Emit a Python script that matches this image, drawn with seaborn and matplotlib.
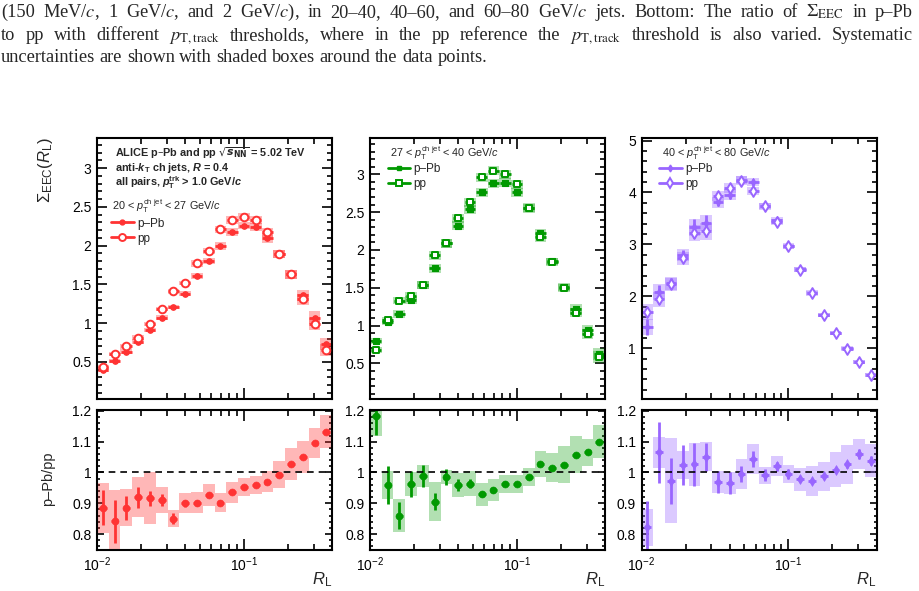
import numpy as np
import pandas as pd
import seaborn as sns
import matplotlib.pyplot as plt
from matplotlib.lines import Line2D
from matplotlib.ticker import MultipleLocator, LogLocator, NullFormatter

# R_L bin edges (20 log bins from 0.01 to 0.4)
rl_edges = [0.0100, 0.01202, 0.01446, 0.01739, 0.02092, 0.02516, 0.03026,
            0.03639, 0.04377, 0.05265, 0.06332, 0.07616, 0.09159, 0.11016,
            0.13249, 0.15935, 0.19165, 0.23050, 0.27723, 0.33343, 0.4000]

# 20 < pT < 27 GeV/c
ppb_1 = [0.40, 0.51, 0.63, 0.76, 0.91, 1.07, 1.21, 1.38, 1.61, 1.80,
         2.00, 2.18, 2.26, 2.24, 2.10, 1.89, 1.63, 1.36, 1.07, 0.73]
pp_1 = [0.43, 0.60, 0.70, 0.81, 0.99, 1.18, 1.41, 1.52, 1.77, 1.93,
        2.21, 2.33, 2.37, 2.33, 2.17, 1.89, 1.63, 1.31, 0.99, 0.65]
sys_1 = [0.03, 0.03, 0.03, 0.03, 0.03, 0.03, 0.03, 0.03, 0.04, 0.04,
         0.05, 0.05, 0.05, 0.05, 0.06, 0.05, 0.06, 0.07, 0.08, 0.08]
ratio_1 = [0.885, 0.842, 0.885, 0.919, 0.916, 0.910, 0.850, 0.900, 0.902, 0.927,
           0.902, 0.935, 0.953, 0.959, 0.970, 0.993, 1.027, 1.050, 1.096, 1.133]
ratio_stat_1 = [0.057, 0.070, 0.040, 0.035, 0.025, 0.020, 0.017, 0.012, 0.010, 0.008,
                0.007, 0.006, 0.005, 0.005, 0.005, 0.005, 0.005, 0.005, 0.005, 0.006]
ratio_sys_1 = [0.082, 0.100, 0.060, 0.065, 0.085, 0.042, 0.027, 0.032, 0.034, 0.036,
               0.032, 0.034, 0.030, 0.030, 0.035, 0.045, 0.053, 0.053, 0.050, 0.054]

# 27 < pT < 40 GeV/c
ppb_2 = [0.80, 1.05, 1.15, 1.34, 1.54, 1.76, 2.09, 2.32, 2.54, 2.76,
         2.88, 2.89, 2.76, 2.55, 2.22, 1.85, 1.51, 1.22, 0.94, 0.63]
pp_2 = [0.68, 1.08, 1.33, 1.39, 1.54, 1.93, 2.09, 2.42, 2.63, 2.96,
        3.05, 3.00, 2.87, 2.56, 2.17, 1.84, 1.50, 1.17, 0.89, 0.59]
sys_2 = [0.04, 0.04, 0.05, 0.05, 0.05, 0.06, 0.06, 0.06, 0.06, 0.06,
         0.06, 0.06, 0.06, 0.06, 0.06, 0.05, 0.05, 0.06, 0.07, 0.08]
ratio_2 = [1.182, 0.959, 0.860, 0.962, 0.989, 0.905, 0.985, 0.959, 0.964, 0.929,
           0.943, 0.963, 0.963, 0.985, 1.028, 1.015, 1.025, 1.058, 1.065, 1.100]
ratio_stat_2 = [0.060, 0.063, 0.045, 0.043, 0.036, 0.027, 0.025, 0.020, 0.015, 0.010,
                0.010, 0.008, 0.007, 0.006, 0.006, 0.006, 0.006, 0.006, 0.006, 0.007]
ratio_sys_2 = [0.065, 0.045, 0.053, 0.040, 0.035, 0.063, 0.023, 0.038, 0.040, 0.037,
               0.035, 0.030, 0.030, 0.030, 0.042, 0.047, 0.060, 0.060, 0.045, 0.054]

# 40 < pT < 80 GeV/c
ppb_3 = [1.41, 2.08, 2.25, 2.79, 3.33, 3.41, 3.81, 3.96, 4.24, 4.20,
         3.74, 3.47, 2.97, 2.52, 2.07, 1.64, 1.30, 1.00, 0.74, 0.49]
pp_3 = [1.70, 1.94, 2.23, 2.73, 3.22, 3.25, 3.93, 4.09, 4.23, 4.03,
        3.73, 3.43, 2.96, 2.51, 2.06, 1.64, 1.30, 0.99, 0.74, 0.49]
ppb_stat_3 = [0.15, 0.13, 0.10, 0.10, 0.15, 0.15, 0.08, 0.08, 0.06, 0.06,
              0.03, 0.03, 0.02, 0.02, 0.02, 0.01, 0.01, 0.01, 0.01, 0.01]
pp_stat_3 = [0.10, 0.09, 0.07, 0.07, 0.10, 0.10, 0.06, 0.06, 0.04, 0.04,
             0.02, 0.02, 0.02, 0.01, 0.01, 0.01, 0.01, 0.01, 0.01, 0.01]
sys_3 = [0.15, 0.15, 0.12, 0.12, 0.16, 0.16, 0.10, 0.10, 0.08, 0.08,
         0.06, 0.06, 0.05, 0.05, 0.05, 0.04, 0.04, 0.04, 0.04, 0.04]
ratio_3 = [0.822, 1.065, 0.973, 1.024, 1.027, 1.051, 0.969, 0.965, 0.995, 1.044,
           0.991, 1.020, 0.995, 0.978, 0.973, 0.987, 1.009, 1.026, 1.060, 1.038]
ratio_stat_3 = [0.085, 0.100, 0.075, 0.066, 0.070, 0.045, 0.035, 0.035, 0.025, 0.025,
                0.020, 0.015, 0.015, 0.010, 0.010, 0.008, 0.010, 0.010, 0.015, 0.015]
ratio_sys_3 = [0.060, 0.050, 0.138, 0.045, 0.070, 0.047, 0.035, 0.035, 0.050, 0.050,
               0.028, 0.033, 0.030, 0.037, 0.048, 0.048, 0.057, 0.062, 0.050, 0.053]

jet_labels = [r'20 < $p_{\mathrm{T}}^{\mathrm{ch\ jet}}$ < 27 GeV/$c$',
              r'27 < $p_{\mathrm{T}}^{\mathrm{ch\ jet}}$ < 40 GeV/$c$',
              r'40 < $p_{\mathrm{T}}^{\mathrm{ch\ jet}}$ < 80 GeV/$c$']

caption = [
    r'(150 MeV/$c$, 1 GeV/$c$, and 2 GeV/$c$), in 20–40, 40–60, and 60–80 GeV/$c$ jets. '
    r'Bottom: The ratio of $\Sigma_{\mathrm{EEC}}$ in p–Pb',
    r'to pp with different $p_{\mathrm{T,track}}$ thresholds, where in the pp reference the '
    r'$p_{\mathrm{T,track}}$ threshold is also varied. Systematic',
    r'uncertainties are shown with shaded boxes around the data points.',
]

sns.set_theme(style='ticks')
plt.rcParams['font.family'] = ['Liberation Sans', 'DejaVu Sans']
plt.rcParams['mathtext.fontset'] = 'custom'
plt.rcParams['mathtext.rm'] = 'Liberation Sans'
plt.rcParams['mathtext.it'] = 'Liberation Sans:italic'
plt.rcParams['mathtext.bf'] = 'Liberation Sans:bold'
plt.rcParams['mathtext.bfit'] = 'Liberation Sans:italic:bold'

edges = np.array(rl_edges)
lo, hi = edges[:-1], edges[1:]
centers = np.sqrt(lo * hi)

panels = [
    dict(ppb=ppb_1, pp=pp_1, sys=sys_1, ppb_stat=None, pp_stat=None,
         r=ratio_1, rstat=ratio_stat_1, rsys=ratio_sys_1,
         color='#ff3333', marker='o', omarker='o', ylim=(0.02, 3.39), minor=0.1,
         ms_f=4, ms_o=5.5, alpha=0.35),
    dict(ppb=ppb_2, pp=pp_2, sys=sys_2, ppb_stat=None, pp_stat=None,
         r=ratio_2, rstat=ratio_stat_2, rsys=ratio_sys_2,
         color='#009900', marker='s', omarker='s', ylim=(0.03, 3.48), minor=0.1,
         ms_f=4, ms_o=5, alpha=0.3),
    dict(ppb=ppb_3, pp=pp_3, sys=sys_3, ppb_stat=ppb_stat_3, pp_stat=pp_stat_3,
         r=ratio_3, rstat=ratio_stat_3, rsys=ratio_sys_3,
         color='#9966ff', marker='d', omarker='d', ylim=(0.02, 5.05), minor=0.2,
         ms_f=4, ms_o=5.5, alpha=0.35),
]

W, H = 919, 591
fig = plt.figure(figsize=(W / 100, H / 100), dpi=100)
lefts = [97, 370, 641.5]
aw = 235


def style_axis(ax, ymaj, ymin):
    ax.set_xscale('log')
    ax.set_xlim(0.01, 0.4)
    ax.xaxis.set_major_locator(LogLocator(base=10, numticks=10))
    ax.xaxis.set_minor_locator(LogLocator(base=10, subs=np.arange(2, 10), numticks=20))
    ax.xaxis.set_minor_formatter(NullFormatter())
    ax.yaxis.set_minor_locator(MultipleLocator(ymin))
    ax.tick_params(which='both', direction='in', top=True, right=True,
                   width=1.2, labelsize=10, colors='black', pad=4)
    ax.tick_params(axis='y', which='major', length=ymaj)
    ax.tick_params(axis='y', which='minor', length=ymaj / 2)
    ax.tick_params(axis='x', which='major', length=8)
    ax.tick_params(axis='x', which='minor', length=4)
    for s in ax.spines.values():
        s.set_linewidth(1.5)
        s.set_color('black')


for i, p in enumerate(panels):
    c = p['color']
    ax = fig.add_axes([lefts[i] / W, (H - 399) / H, aw / W, 261 / H])
    axr = fig.add_axes([lefts[i] / W, (H - 550) / H, aw / W, 140 / H])

    # top panel: systematic boxes
    for vals in (p['pp'], p['ppb']):
        v = np.array(vals)
        s = np.array(p['sys'])
        ax.bar(lo, 2 * s, bottom=v - s, width=hi - lo, align='edge',
               color=c, alpha=p['alpha'], linewidth=0, zorder=1)

    xerr = np.vstack([(centers - lo) * 0.9, (hi - centers) * 0.9])
    ax.errorbar(centers, p['ppb'], xerr=xerr, yerr=p['ppb_stat'], fmt='none',
                ecolor=c, elinewidth=2, capsize=0, zorder=2)
    ax.errorbar(centers, p['pp'], xerr=xerr, yerr=p['pp_stat'], fmt='none',
                ecolor=c, elinewidth=2, capsize=0, zorder=2)

    df = pd.DataFrame({'RL': centers, 'pPb': p['ppb'], 'pp': p['pp']})
    sns.scatterplot(data=df, x='RL', y='pPb', ax=ax, marker=p['marker'],
                    s=p['ms_f'] ** 2, color=c, edgecolor=c, linewidth=0.8,
                    zorder=4, legend=False)
    sns.scatterplot(data=df, x='RL', y='pp', ax=ax, marker=p['omarker'],
                    s=p['ms_o'] ** 2, color='white', edgecolor=c, linewidth=1.4,
                    zorder=5, legend=False)

    ax.set_ylim(*p['ylim'])
    style_axis(ax, 7, p['minor'])
    ax.set_xticklabels([])
    ax.set_xlabel('')
    ax.set_ylabel('')

    # ratio panel
    r = np.array(p['r'])
    rs = np.array(p['rsys'])
    axr.bar(lo, 2 * rs, bottom=r - rs, width=hi - lo, align='edge',
            color=c, alpha=p['alpha'], linewidth=0, zorder=1)
    xerr_r = np.vstack([(centers - lo) * 0.65, (hi - centers) * 0.65])
    axr.errorbar(centers, r, xerr=xerr_r, yerr=p['rstat'], fmt='none',
                 ecolor=c, elinewidth=2, capsize=0, zorder=2)
    dfr = pd.DataFrame({'RL': centers, 'ratio': r})
    sns.scatterplot(data=dfr, x='RL', y='ratio', ax=axr,
                    marker='o' if i < 2 else 'd', s=25, color=c, edgecolor=c,
                    linewidth=0.5, zorder=4, legend=False)
    axr.axhline(1.0, color='black', lw=1.2, ls=(0, (4, 3)), zorder=3)
    axr.set_ylim(0.748, 1.203)
    axr.set_yticks([0.8, 0.9, 1.0, 1.1, 1.2])
    axr.set_yticklabels(['0.8', '0.9', '1', '1.1', '1.2'])
    style_axis(axr, 5, 0.02)
    axr.set_ylabel('')
    axr.set_xlabel(r'$R_{\mathrm{L}}$', fontsize=12, loc='right', labelpad=-3)

    # texts and legend
    if i == 0:
        ax.set_yticks([0.5, 1, 1.5, 2, 2.5, 3])
        ax.set_yticklabels(['0.5', '1', '1.5', '2', '2.5', '3'])
        tx = 0.077
        ax.text(tx, 0.9425, r'ALICE p–Pb and pp $\sqrt{\mathbfit{s}_{\mathbf{NN}}}$ = 5.02 TeV',
                transform=ax.transAxes, fontsize=7.8, fontweight='bold', va='center',
                math_fontfamily='dejavusans')
        ax.text(tx, 0.885, r'anti-$\mathbfit{k}_{\mathbf{T}}$ ch jets, $\mathbfit{R}$ = 0.4',
                transform=ax.transAxes, fontsize=7.8, fontweight='bold', va='center')
        ax.text(tx, 0.828, r'all pairs, $\mathbfit{p}_{\mathbf{T}}^{\mathbf{trk}}$ > 1.0 GeV/$\mathbfit{c}$',
                transform=ax.transAxes, fontsize=7.8, fontweight='bold', va='center')
        ax.text(0.065, 0.739, jet_labels[0], transform=ax.transAxes,
                fontsize=7.8, va='center')
        leg_y = 0.695
        leg_x = 0.06
    elif i == 1:
        ax.set_yticks([0.5, 1, 1.5, 2, 2.5, 3])
        ax.set_yticklabels(['0.5', '1', '1.5', '2', '2.5', '3'])
        ax.text(0.085, 0.9425, jet_labels[1], transform=ax.transAxes,
                fontsize=7.8, va='center')
        leg_y = 0.905
        leg_x = 0.075
    else:
        ax.set_yticks([1, 2, 3, 4, 5])
        ax.set_yticklabels(['1', '2', '3', '4', '5'])
        ax.text(0.087, 0.9425, jet_labels[2], transform=ax.transAxes,
                fontsize=7.8, va='center')
        leg_y = 0.905
        leg_x = 0.075

    handles = [
        Line2D([], [], color=c, lw=2, marker=p['marker'], ms=p['ms_f'] - 0.5,
               mfc=c, mec=c),
        Line2D([], [], color=c, lw=2, marker=p['omarker'], ms=p['ms_o'] - 0.5,
               mfc='white', mec=c, mew=1.4),
    ]
    ax.legend(handles, ['p–Pb', 'pp'], loc='upper left',
              bbox_to_anchor=(leg_x, leg_y), frameon=False, fontsize=8.5,
              handlelength=1.9, handletextpad=0.3, labelspacing=0.25,
              borderpad=0, borderaxespad=0)

fig.text(0.050, 0.712, r'$\Sigma_{\mathrm{EEC}}(R_{\mathrm{L}})$', rotation=90,
         fontsize=12, ha='center', va='center')
fig.text(0.052, 0.19, 'p–Pb/pp', rotation=90, fontsize=10.5,
         ha='center', va='center')

# caption above the figure, first two lines justified to the full width
renderer = fig.canvas.get_renderer()
cap_size = 13.2
cap_y = [17, 40, 62]
x_left, x_right = 1, 913
for n, (line, y) in enumerate(zip(caption, cap_y)):
    words = line.split(' ')
    texts = [fig.text(x_left / W, 1 - y / H, w_, fontsize=cap_size,
                      family='Liberation Serif', math_fontfamily='stix',
                      ha='left', va='baseline') for w_ in words]
    widths = [t.get_window_extent(renderer).width for t in texts]
    space = cap_size * 0.25 * 100 / 72
    if n < 2:
        space = (x_right - x_left - sum(widths)) / (len(words) - 1)
    xpos = x_left
    for t, w_ in zip(texts, widths):
        t.set_x(xpos / W)
        xpos += w_ + space

fig.savefig('out.png', dpi=100)
